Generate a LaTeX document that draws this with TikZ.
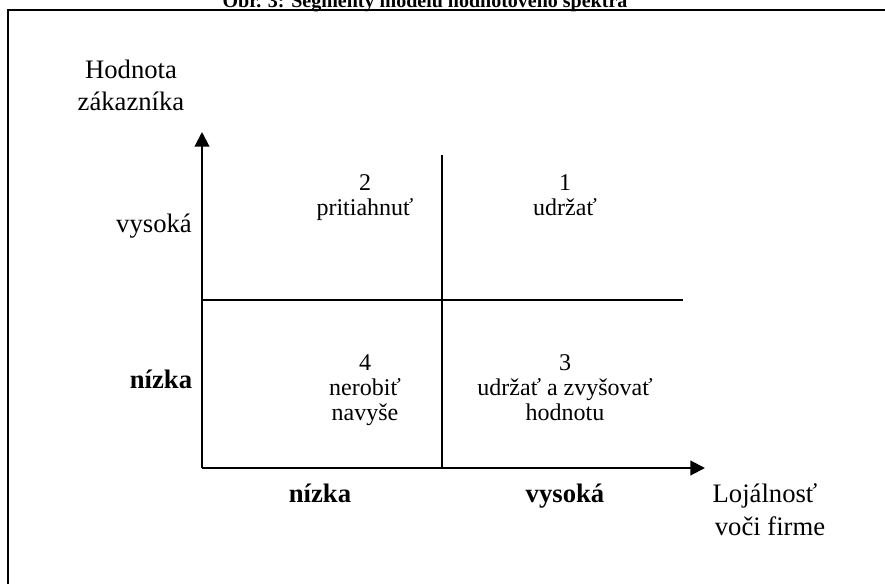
\documentclass[tikz,border=0pt]{standalone}
\usepackage{fontspec}
\setmainfont{Liberation Serif}
\usetikzlibrary{arrows.meta}
\begin{document}
\begin{tikzpicture}[x=0.75pt,y=-0.75pt,
  frameline/.style={line width=1.5pt},
  axisline/.style={line width=1.5pt},
  gridline/.style={line width=1.5pt},
  axisarrow/.style={axisline,-{Triangle[width=11pt,length=11pt]}},
  lbl/.style={font=\fontsize{20}{24}\selectfont, anchor=base, inner sep=0pt},
  lblb/.style={lbl, font=\fontsize{20}{24}\selectfont\bfseries},
  cell/.style={font=\fontsize{18}{21}\selectfont, anchor=base, inner sep=0pt},
  titletext/.style={font=\fontsize{15}{17}\selectfont\bfseries, anchor=base, inner sep=0pt}]
\useasboundingbox (0,0) rectangle (885,583);
\clip (0,0) rectangle (885,583);

% frame and caption
\coordinate (fbl) at (8,590);
\coordinate (ftl) at (8,10);
\coordinate (ftr) at (890,10);
\draw[frameline] (fbl) -- (ftl) -- (ftr);
\node[titletext] (title) at (425,7) {Obr. 3: Segmenty modelu hodnotového spektra};

% axes
\coordinate (O) at (202,468);
\coordinate (ytip) at (202,132);
\coordinate (xtip) at (705,468);
\draw[axisarrow] (O) -- (ytip);
\draw[axisarrow] (O) -- (xtip);

% quadrant dividers
\coordinate (vtop) at (442,155);
\coordinate (vbot) at (442,468);
\coordinate (hleft) at (202,300);
\coordinate (hright) at (683,300);
\draw[gridline] (vtop) -- (vbot);
\draw[gridline] (hleft) -- (hright);

% axis titles
\node[lbl] (yt1) at (131,78) {Hodnota};
\node[lbl] (yt2) at (131,110) {zákazníka};
\node[lbl] (xt1) at (765,502) {Lojálnosť};
\node[lbl] (xt2) at (770,535) {voči firme};

% scale labels
\node[lbl] (yhigh) at (154,232) {vysoká};
\node[lblb] (ylow) at (161,388) {nízka};
\node[lblb] (xlow) at (320,502) {nízka};
\node[lblb] (xhigh) at (565,502) {vysoká};

% quadrant contents
\node[cell] (q2a) at (365,190) {2};
\node[cell] (q2b) at (365,215) {pritiahnuť};
\node[cell] (q1a) at (565,190) {1};
\node[cell] (q1b) at (565,215) {udržať};
\node[cell] (q4a) at (365,370) {4};
\node[cell] (q4b) at (365,395) {nerobiť};
\node[cell] (q4c) at (365,420) {navyše};
\node[cell] (q3a) at (565,370) {3};
\node[cell] (q3b) at (565,395) {udržať a zvyšovať};
\node[cell] (q3c) at (565,420) {hodnotu};
\end{tikzpicture}
\end{document}
